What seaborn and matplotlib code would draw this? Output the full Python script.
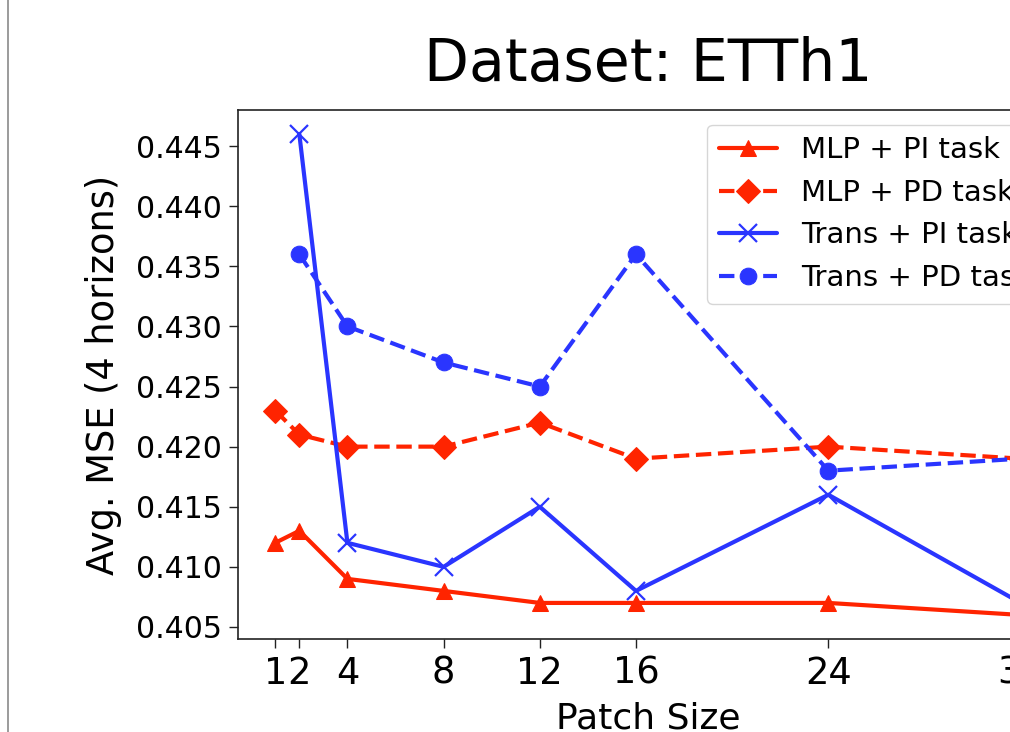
import matplotlib
matplotlib.use("Agg")
import matplotlib.pyplot as plt
from matplotlib.lines import Line2D
import seaborn as sns
import numpy as np

# ---- data ----
patch_sizes = [1, 2, 4, 8, 12, 16, 24, 32]
mlp_pi = [0.412, 0.413, 0.409, 0.408, 0.407, 0.407, 0.407, 0.406]
mlp_pd = [0.423, 0.421, 0.420, 0.420, 0.422, 0.419, 0.420, 0.419]
trans_sizes = [2, 4, 8, 12, 16, 24, 32]
trans_pi = [0.446, 0.412, 0.410, 0.415, 0.408, 0.416, 0.407]
trans_pd = [0.436, 0.430, 0.427, 0.425, 0.436, 0.418, 0.419]
labels = ["MLP + PI task", "MLP + PD task", "Trans + PI task", "Trans + PD task"]
title = "Dataset: ETTh1"
xlabel = "Patch Size"
ylabel = "Avg. MSE (4 horizons)"

RED = "#ff2400"
BLUE = "#2a35ff"

sns.set_style("ticks")
plt.rcParams["font.family"] = ["DejaVu Sans"]
plt.rcParams["text.color"] = "black"
plt.rcParams["axes.labelcolor"] = "black"
plt.rcParams["xtick.color"] = "black"
plt.rcParams["ytick.color"] = "black"

fig = plt.figure(figsize=(10.1, 7.32), dpi=100)
ax = fig.add_axes([238 / 1010, 1 - 639 / 732, (1058 - 238) / 1010, (639 - 110) / 732])

lw = 3.0
ms = 12
sns.lineplot(x=patch_sizes, y=mlp_pi, ax=ax, color=RED, marker="^", markersize=ms,
             linestyle="-", linewidth=lw, label=labels[0], sort=False,
             markeredgecolor=RED)
sns.lineplot(x=patch_sizes, y=mlp_pd, ax=ax, color=RED, marker="D", markersize=ms,
             linestyle="--", linewidth=lw, label=labels[1], sort=False,
             markeredgecolor=RED)
sns.lineplot(x=trans_sizes, y=trans_pi, ax=ax, color=BLUE, marker="x", markersize=ms + 1,
             linestyle="-", linewidth=lw, label=labels[2], sort=False,
             markeredgecolor=BLUE, markeredgewidth=1.6)
sns.lineplot(x=trans_sizes, y=trans_pd, ax=ax, color=BLUE, marker="o", markersize=ms,
             linestyle="--", linewidth=lw, label=labels[3], sort=False,
             markeredgecolor=BLUE)

ax.set_xticks(patch_sizes)
ax.set_xticklabels([str(p) for p in patch_sizes], fontsize=26.5)
ax.set_yticks([0.405, 0.410, 0.415, 0.420, 0.425, 0.430, 0.435, 0.440, 0.445])
ax.set_yticklabels([f"{v:.3f}" for v in ax.get_yticks()], fontsize=21.5)
ax.set_ylim(0.404, 0.448)
ax.set_xlim(-0.55, 33.55)
ax.tick_params(axis="both", length=6.5, width=1.0, pad=5, color="#222222")

for s in ax.spines.values():
    s.set_color("#222222")
    s.set_linewidth(1.2)

ax.set_title(title, fontsize=42, pad=21, color="black")
ax.set_xlabel(xlabel, fontsize=26, labelpad=7)
ax.set_ylabel(ylabel, fontsize=26.5, labelpad=10)

leg = ax.legend(loc="upper right", fontsize=21, frameon=True, handlelength=2.0,
                labelspacing=0.5)
for t in leg.get_texts():
    t.set_color("black")

# page border line on the left
fig.add_artist(Line2D([8 / 1010, 8 / 1010], [0, 1], transform=fig.transFigure,
                      color="#8a8a8a", linewidth=1.2))

fig.savefig("out.png", dpi=100)
